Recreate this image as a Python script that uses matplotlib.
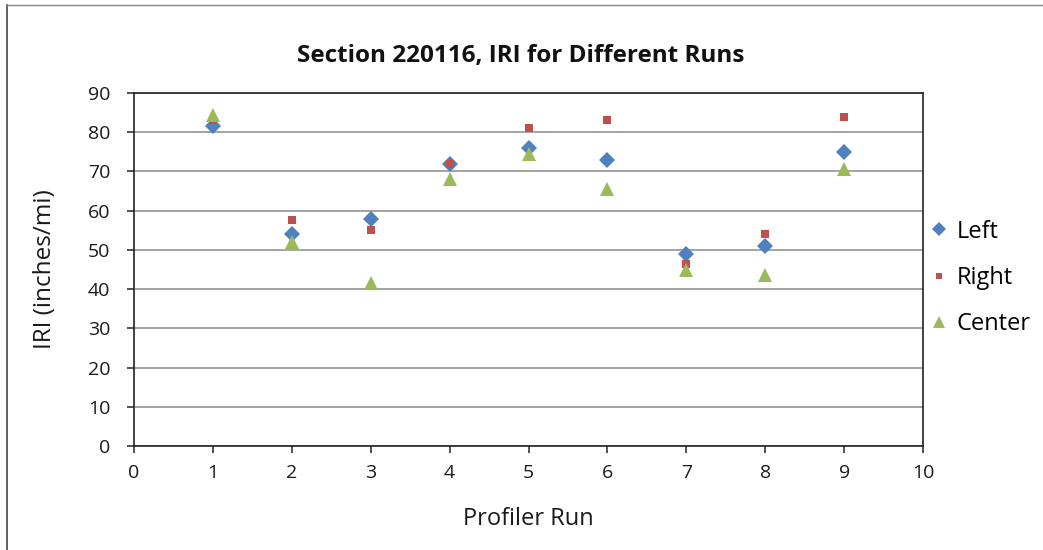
import matplotlib
matplotlib.use("Agg")
import matplotlib.pyplot as plt
from matplotlib.lines import Line2D

plt.rcParams['font.family'] = ['Open Sans', 'DejaVu Sans']

runs = [1, 2, 3, 4, 5, 6, 7, 8, 9]
left = [81.5, 54.0, 58.0, 72.0, 76.0, 73.0, 49.0, 51.0, 75.0]
right = [83.0, 57.5, 55.0, 72.0, 81.0, 83.0, 46.5, 54.0, 84.0]
center = [84.5, 52.0, 41.5, 68.0, 74.5, 65.5, 45.0, 43.5, 70.5]
series_names = ["Left", "Right", "Center"]
title = "Section 220116, IRI for Different Runs"
xlabel = "Profiler Run"
ylabel = "IRI (inches/mi)"

colors = ["#4F81BD", "#C0504D", "#9BBB59"]
markers = ["D", "s", "^"]
msizes = [8, 5.5, 10]

fig = plt.figure(figsize=(10.43, 5.5), dpi=100)
ax = fig.add_axes([134/1043, 1-446/550, (923-134)/1043, (446-93)/550])

for vals, c, m, s, n in zip([left, right, center], colors, markers, msizes, series_names):
    ax.plot(runs, vals, linestyle='none', marker=m, color=c, markersize=s,
            markeredgewidth=0, label=n, zorder=3)

ax.set_xlim(0, 10)
ax.set_ylim(0, 90)
ax.set_xticks(range(0, 11))
ax.set_yticks(range(0, 91, 10))
ax.grid(axis='y', color='#8c8c8c', linewidth=1.1, zorder=1)
for sp in ax.spines.values():
    sp.set_color('#222222')
    sp.set_linewidth(1.2)
ax.tick_params(direction='out', length=5, width=1.1, color='#222222',
               labelsize=14, labelcolor='#1a1a1a')
ax.tick_params(axis='x', pad=8)
ax.tick_params(axis='y', pad=12)

ax.set_xlabel(xlabel, fontsize=17, color='#1a1a1a', labelpad=18)
ax.set_ylabel(ylabel, fontsize=17.5, color='#1a1a1a', labelpad=22)
fig.text(521/1043, 1-56/550, title, fontsize=17.5, fontweight='bold',
         ha='center', va='center', color='#111111')

handles = [Line2D([], [], linestyle='none', marker=m, color=c, markersize=s*0.9,
                  markeredgewidth=0) for c, m, s in zip(colors, markers, msizes)]
leg = fig.legend(handles, series_names, loc='center left',
                 bbox_to_anchor=(920/1043, 1-278/550), frameon=False,
                 fontsize=17, handlelength=0.6, handletextpad=0.45,
                 labelspacing=0.95, borderpad=0)

# outer border (top and left visible)
fig.add_artist(Line2D([7/1043, 7/1043], [0, 1-5/550], transform=fig.transFigure,
                      color='#444444', linewidth=1.2))
fig.add_artist(Line2D([7/1043, 1], [1-5/550, 1-5/550], transform=fig.transFigure,
                      color='#888888', linewidth=1.0))

fig.savefig("out.png", dpi=100, facecolor='white')
